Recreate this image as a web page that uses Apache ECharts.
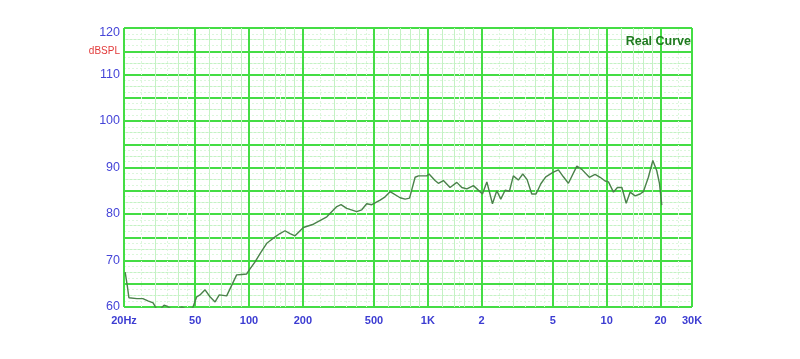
<!DOCTYPE html>
<html><head><meta charset="utf-8">
<script src="https://cdn.jsdelivr.net/npm/echarts@6/dist/echarts.min.js"></script>
<style>html,body{margin:0;padding:0;background:#fff}#c{width:800px;height:359px}</style>
</head><body><div id="c"></div>
<script>
// Frequency (Hz) and SPL (dB)
const freqs = [20.3,20.9,21.3,23.6,25.5,27.2,29.1,30.5,31.8,33.5,34.7,37.0,39.4,42.0,44.8,48.4,51.0,53.2,56.8,60.5,64.6,68.2,75.0,85.3,91.0,97.1,100.4,108.1,115.3,125.7,136.8,149.0,158.9,169.5,180.9,201.4,229.2,272.3,309.8,327,352,400,427,455,486,541,577,615,700,747,790,849,886,987,1016,1097,1145,1222,1331,1452,1549,1652,1799,2020,2138,2298,2430,2558,2705,2859,3007,3206,3396,3590,3811,4028,4284,4565,5035,5371,5729,6110,6810,7262,8003,8613,9188,9800,10230,10914,11487,12164,12856,13520,14420,15383,16039,17110,18116,19060,19730,20330];
const spl = [67.5,64.4,62.0,61.8,61.8,61.3,60.9,59.5,59.5,60.4,60.2,59.5,59.3,60.0,59.5,59.8,62.2,62.6,63.7,62.2,61.1,62.6,62.4,66.9,67.0,67.1,68.0,69.7,71.5,73.7,74.8,75.8,76.4,75.8,75.3,77.1,77.8,79.4,81.6,82.0,81.2,80.5,80.9,82.2,82.0,83.0,83.7,84.8,83.5,83.2,83.4,87.9,88.2,88.2,88.6,87.2,86.6,87.2,85.7,86.8,85.7,85.4,86.1,84.3,86.9,82.2,85.0,83.2,85.1,84.9,88.2,87.3,88.6,87.4,84.3,84.3,86.5,88.0,89.0,89.5,88.0,86.6,90.3,89.6,87.9,88.5,87.9,87.1,86.9,84.7,85.7,85.7,82.3,84.7,83.9,84.3,84.8,87.9,91.5,89.3,86.6,81.9];
const xTickValues = [20,50,100,200,500,1000,2000,5000,10000,20000,30000];
const xTickLabels = ['20Hz','50','100','200','500','1K','2','5','10','20','30K'];
const xMinorSolid = [30,40,60,70,80,90,120,140,160,180,300,400,600,700,800,900,1200,1400,1600,1800,3000,4000,6000,7000,8000,9000,12000,14000,16000,18000];
const xMinorDotted = [25,35,45,150,250,350,450,1500,2500,3500,4500,15000,25000];
const yTicks = [60,70,80,90,100,110,120];

const MAJOR = '#44dd44', MINOR = '#c4f2c4', FAINT = '#dcf7dc';
const vline = (v, color, type, width) => ({xAxis: v, lineStyle: {color, type, width}});
const gridLines = []
  .concat(xMinorDotted.map(v => vline(v, FAINT, [2,2], 1)))
  .concat(xMinorSolid.map(v => vline(v, MINOR, 'solid', 1)))
  .concat(xTickValues.map(v => vline(v, MAJOR, 'solid', 2)));

const chart = echarts.init(document.getElementById('c'));
chart.setOption({
  animation: false,
  title: {text: 'Real Curve', right: 104, top: 30,
    textStyle: {color: '#1f7a1f', fontSize: 12.5, fontWeight: 'bold', fontFamily: 'Liberation Sans'}},
  grid: {left: 124, right: 108, top: 28, bottom: 52},
  xAxis: {type: 'log', logBase: 10, min: 20, max: 30000,
    axisLine: {show: false}, axisTick: {show: false}, splitLine: {show: false},
    axisLabel: {customValues: xTickValues, margin: 8, color: '#3c3cd2', fontSize: 11, fontWeight: 'bold',
      fontFamily: 'Liberation Sans',
      formatter: v => { const i = xTickValues.findIndex(t => Math.abs(t - v) / t < 1e-6); return i >= 0 ? xTickLabels[i] : ''; }}},
  yAxis: [
    {type: 'value', min: 60, max: 120, interval: 5, z: 3,
      axisLine: {show: false}, axisTick: {show: false},
      axisLabel: {margin: 4, color: '#4545d8', fontSize: 12.5, fontFamily: 'Liberation Sans',
        formatter: v => v === 120 ? '{t|120}' : (yTicks.includes(v) ? String(v) : (v === 115 ? '{r|dBSPL}' : '')),
        rich: {r: {color: '#e23a3a', fontSize: 10, fontFamily: 'Liberation Sans'},
               t: {color: '#4545d8', fontSize: 12.5, fontFamily: 'Liberation Sans', padding: [10, 0, 0, 0]}}},
      splitLine: {lineStyle: {color: MAJOR, width: 2}},
      minorTick: {show: false, splitNumber: 4},
      minorSplitLine: {show: true, lineStyle: {color: FAINT, type: [2,2]}}},
    {type: 'value', min: 60, max: 120, interval: 2.5, z: 1, show: true,
      axisLine: {show: false}, axisTick: {show: false}, axisLabel: {show: false},
      splitLine: {lineStyle: {color: MINOR, width: 1}}}
  ],
  series: [
    {type: 'line', data: [], yAxisIndex: 0, silent: true, z: 1,
      markLine: {silent: true, symbol: 'none', label: {show: false}, animation: false, data: gridLines}},
    {type: 'line', data: freqs.map((f, i) => [f, spl[i]]), yAxisIndex: 0, z: 5,
      showSymbol: false, clip: true,
      lineStyle: {color: '#4a824a', width: 1.4}}
  ]
});
</script></body></html>
